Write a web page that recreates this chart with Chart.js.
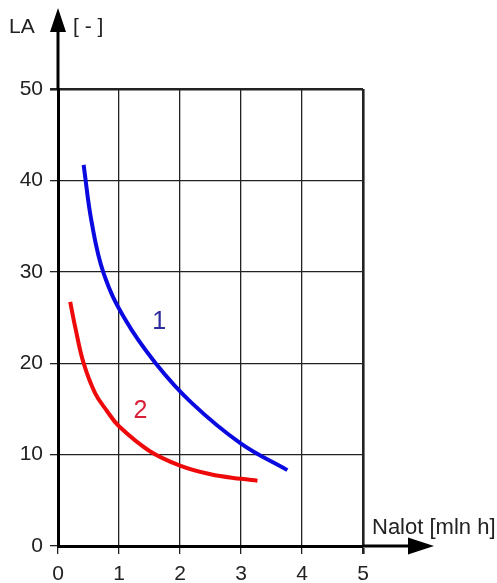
<!DOCTYPE html>
<html>
<head>
<meta charset="utf-8">
<script src="https://cdn.jsdelivr.net/npm/chart.js@4"></script>
<style>
  html, body { margin: 0; padding: 0; background: #fff; }
  #laChart { display: block; }
</style>
</head>
<body>
<canvas id="laChart" width="497" height="583" style="width:497px;height:583px"></canvas>
<script>
// curve 1 (blue) and curve 2 (red)
var curve1X = [0.42, 0.55, 0.75, 1.1, 1.6, 2.2, 3.0, 3.76];
var curve1Y = [41.7, 35.5, 29.8, 24.8, 20.0, 15.6, 11.2, 8.3];
var curve2X = [0.2, 0.29, 0.42, 0.61, 0.8, 1.0, 1.5, 2.0, 2.5, 3.0, 3.27];
var curve2Y = [26.7, 23.7, 20.0, 16.7, 14.8, 13.1, 10.4, 8.8, 7.85, 7.35, 7.15];

var curveNames = ['1', '2'];
var curveNameAt = [[1.66, 24.5], [1.35, 14.8]];

var xTicksMax = 5;
var yTicksMax = 50;

var FONT = "'Liberation Sans', Arial, sans-serif";

function toPoints(xs, ys) {
  var pts = [];
  for (var i = 0; i < xs.length; i++) {
    pts.push({ x: xs[i], y: ys[i] });
  }
  return pts;
}

// arrows on the axes, axis titles and curve numbers
var decorPlugin = {
  id: 'decor',
  afterDraw: function (chart) {
    var ctx = chart.ctx;
    var xs = chart.scales.x, ys = chart.scales.y;
    var x0 = xs.getPixelForValue(0), y0 = ys.getPixelForValue(0);
    var xEnd = xs.getPixelForValue(xTicksMax), yTop = ys.getPixelForValue(yTicksMax);
    ctx.save();
    ctx.strokeStyle = '#000';
    ctx.fillStyle = '#000';
    ctx.lineWidth = 3;
    // y axis up to the arrow
    ctx.beginPath();
    ctx.moveTo(x0, yTop);
    ctx.lineTo(x0, 30);
    ctx.stroke();
    ctx.beginPath();
    ctx.moveTo(x0, 8);
    ctx.lineTo(x0 - 8, 32);
    ctx.lineTo(x0 + 8, 32);
    ctx.closePath();
    ctx.fill();
    // x axis out to the arrow
    ctx.beginPath();
    ctx.moveTo(xEnd, y0);
    ctx.lineTo(410, y0);
    ctx.stroke();
    ctx.beginPath();
    ctx.moveTo(434, y0);
    ctx.lineTo(408, y0 - 8.5);
    ctx.lineTo(408, y0 + 8.5);
    ctx.closePath();
    ctx.fill();

    ctx.fillStyle = '#222';
    ctx.font = '21px ' + FONT;
    ctx.textAlign = 'left';
    ctx.textBaseline = 'alphabetic';
    ctx.fillText('LA', 9, 33);
    ctx.fillText('[ - ]', 73, 33);
    ctx.font = '22px ' + FONT;
    ctx.fillText('Nalot [mln h]', 372, 534);

    ctx.font = '25px ' + FONT;
    ctx.textAlign = 'center';
    ctx.textBaseline = 'middle';
    var colors = ['#2b2b9c', '#d8203a'];
    for (var i = 0; i < curveNames.length; i++) {
      ctx.fillStyle = colors[i];
      ctx.fillText(curveNames[i], xs.getPixelForValue(curveNameAt[i][0]), ys.getPixelForValue(curveNameAt[i][1]));
    }
    ctx.restore();
  }
};

var config = {
  type: 'scatter',
  data: {
    datasets: [
      {
        label: curveNames[0],
        data: toPoints(curve1X, curve1Y),
        showLine: true,
        borderColor: '#0a0ae0',
        borderWidth: 4,
        pointRadius: 0,
        tension: 0.4
      },
      {
        label: curveNames[1],
        data: toPoints(curve2X, curve2Y),
        showLine: true,
        borderColor: '#ee0a0a',
        borderWidth: 4,
        pointRadius: 0,
        tension: 0.4
      }
    ]
  },
  options: {
    responsive: false,
    animation: false,
    devicePixelRatio: 1,
    layout: { padding: { top: 89, right: 134, left: 0, bottom: 0 } },
    plugins: {
      legend: { display: false },
      tooltip: { enabled: false }
    },
    scales: {
      x: {
        type: 'linear',
        min: 0,
        max: xTicksMax,
        afterFit: function (scale) { scale.height = 37; },
        ticks: { stepSize: 1, color: '#222', padding: 8, font: { size: 21, family: FONT } },
        grid: {
          color: '#222',
          tickColor: '#222',
          tickLength: 8,
          lineWidth: function (c) { return c.tick && c.tick.value === xTicksMax ? 2.6 : 1.3; }
        },
        border: { display: true, color: '#000', width: 3 }
      },
      y: {
        min: 0,
        max: yTicksMax,
        afterFit: function (scale) { scale.width = 58; },
        ticks: { stepSize: 10, color: '#222', padding: 7, font: { size: 21, family: FONT } },
        grid: {
          color: '#222',
          tickColor: '#222',
          tickLength: 8,
          lineWidth: function (c) { return c.tick && c.tick.value === yTicksMax ? 2.6 : 1.3; }
        },
        border: { display: true, color: '#000', width: 3 }
      }
    }
  },
  plugins: [decorPlugin]
};

var laChart = new Chart(document.getElementById('laChart'), config);
</script>
</body>
</html>
